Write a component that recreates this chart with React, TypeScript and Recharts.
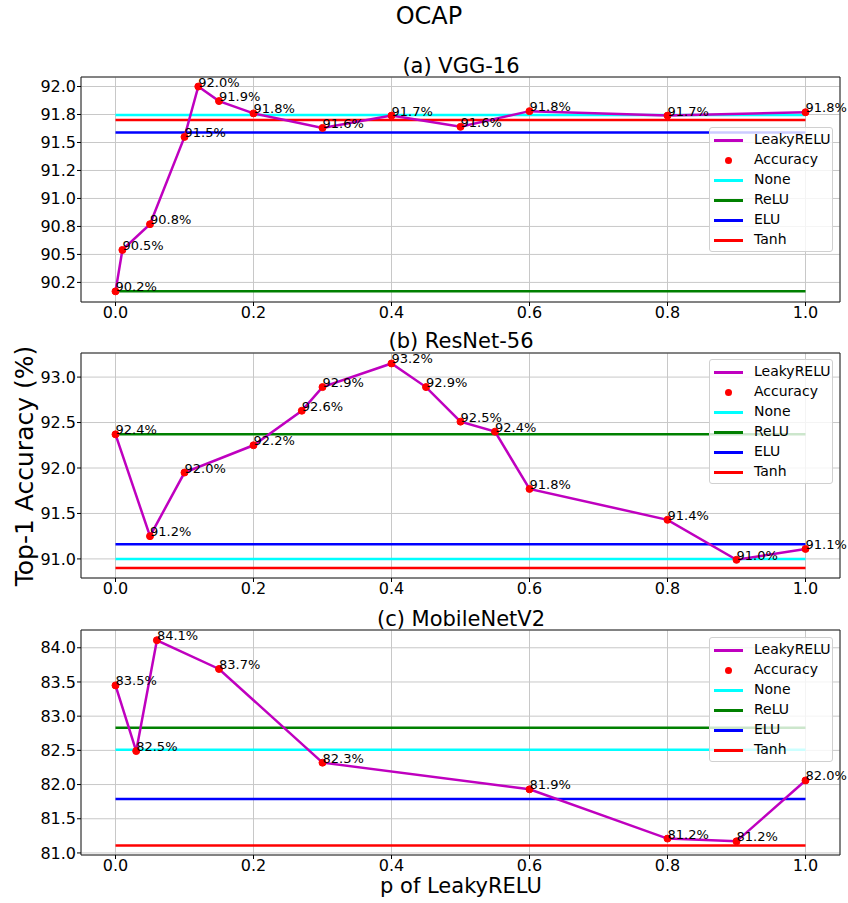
import { CartesianGrid, LabelList, Line, LineChart, ReferenceArea, XAxis, YAxis } from "recharts";

const FONT = "'DejaVu Sans', Verdana, sans-serif";

// shared
const xTicks = [0, 0.2, 0.4, 0.6, 0.8, 1.0];
const baseNames = ["None", "ReLU", "ELU", "Tanh"];
const baseColors = ["#00ffff", "#008000", "#0000ff", "#ff0000"];

// (a) VGG-16
const vggP = [0, 0.01, 0.05, 0.1, 0.12, 0.15, 0.2, 0.3, 0.4, 0.5, 0.6, 0.8, 1.0];
const vggAcc = [90.17, 90.54, 90.77, 91.55, 92.0, 91.87, 91.76, 91.63, 91.74, 91.64, 91.78, 91.74, 91.77];
const vggLabels = ["90.2%", "90.5%", "90.8%", "91.5%", "92.0%", "91.9%", "91.8%", "91.6%", "91.7%", "91.6%", "91.8%", "91.7%", "91.8%"];
const vggBase = [91.745, 90.17, 91.59, 91.7];
const vggYTicks = [90.25, 90.5, 90.75, 91.0, 91.25, 91.5, 91.75, 92.0];
const vggYLabels = ["90.2", "90.5", "90.8", "91.0", "91.2", "91.5", "91.8", "92.0"];

// (b) ResNet-56
const resP = [0, 0.05, 0.1, 0.2, 0.27, 0.3, 0.4, 0.45, 0.5, 0.55, 0.6, 0.8, 0.9, 1.0];
const resAcc = [92.37, 91.25, 91.95, 92.25, 92.63, 92.89, 93.15, 92.89, 92.51, 92.4, 91.77, 91.43, 90.99, 91.11];
const resLabels = ["92.4%", "91.2%", "92.0%", "92.2%", "92.6%", "92.9%", "93.2%", "92.9%", "92.5%", "92.4%", "91.8%", "91.4%", "91.0%", "91.1%"];
const resBase = [91.0, 92.37, 91.16, 90.9];
const resYTicks = [91.0, 91.5, 92.0, 92.5, 93.0];
const resYLabels = ["91.0", "91.5", "92.0", "92.5", "93.0"];

// (c) MobileNetV2
const mobP = [0, 0.03, 0.06, 0.15, 0.3, 0.6, 0.8, 0.9, 1.0];
const mobAcc = [83.45, 82.49, 84.11, 83.69, 82.32, 81.93, 81.21, 81.17, 82.06];
const mobLabels = ["83.5%", "82.5%", "84.1%", "83.7%", "82.3%", "81.9%", "81.2%", "81.2%", "82.0%"];
const mobBase = [82.51, 82.83, 81.79, 81.11];
const mobYTicks = [81.0, 81.5, 82.0, 82.5, 83.0, 83.5, 84.0];
const mobYLabels = ["81.0", "81.5", "82.0", "82.5", "83.0", "83.5", "84.0"];

const PLOT_H = 225;
const PAD_TOP = 10;

const PointLabel = (props: any) => {
	const x = props.x ?? props.viewBox?.x;
	const y = props.y ?? props.viewBox?.y;
	return (
		<text x={x} y={y} fontSize={13} fontFamily={FONT} fill="#000" textAnchor="start">
			{props.value}
		</text>
	);
};

const LegendBox = ({ top }: { top: number }) => (
	<div
		style={{
			position: "absolute",
			left: 709,
			top,
			width: 124,
			height: 125,
			boxSizing: "border-box",
			background: "rgba(255,255,255,0.8)",
			border: "1px solid #d0d0d0",
			borderRadius: 3,
			fontFamily: FONT,
			fontSize: 14,
			color: "#000",
		}}
	>
		{["LeakyRELU", "Accuracy", ...baseNames].map((name, i) => (
			<div key={name} style={{ position: "absolute", left: 0, top: 2 + i * 20, height: 20, width: 124 }}>
				{i === 1 ? (
					<div
						style={{
							position: "absolute",
							left: 15,
							top: 7,
							width: 7,
							height: 7,
							borderRadius: 4,
							background: "#ff0000",
						}}
					/>
				) : (
					<div
						style={{
							position: "absolute",
							left: 4,
							top: 8.5,
							width: 29,
							height: 3,
							background: i === 0 ? "#bf00bf" : baseColors[i - 2],
						}}
					/>
				)}
				<span style={{ position: "absolute", left: 44, top: 1, lineHeight: "17px" }}>{name}</span>
			</div>
		))}
	</div>
);

type PanelProps = {
	plotTop: number;
	p: number[];
	acc: number[];
	labels: string[];
	base: number[];
	yDomain: [number, number];
	yTicks: number[];
	yLabels: string[];
	legendOffset: number;
};

const Panel = ({ plotTop, p, acc, labels, base, yDomain, yTicks, yLabels, legendOffset }: PanelProps) => {
	const rows = p.map((x, i) => ({ p: x, acc: acc[i], label: labels[i] }));
	return (
		<div style={{ position: "absolute", left: 0, top: plotTop - PAD_TOP, width: 848, height: PLOT_H + PAD_TOP + 30 }}>
			<LineChart
				width={848}
				height={PLOT_H + PAD_TOP + 30}
				data={rows}
				margin={{ top: PAD_TOP, right: 8, bottom: 0, left: 21 }}
			>
				<CartesianGrid stroke="#c8c8c8" strokeWidth={1} />
				<XAxis
					type="number"
					dataKey="p"
					domain={[-0.05, 1.05]}
					ticks={xTicks}
					allowDataOverflow
					tickFormatter={(v: number) => v.toFixed(1)}
					height={30}
					tickSize={4}
					tickMargin={1}
					axisLine={false}
					tickLine={{ stroke: "#000" }}
					tick={{ fill: "#000", fontSize: 16, fontFamily: FONT }}
				/>
				<YAxis
					type="number"
					domain={yDomain}
					ticks={yTicks}
					allowDataOverflow
					tickFormatter={(v: number) => yLabels[yTicks.indexOf(v)] ?? ""}
					width={60}
					tickSize={4}
					tickMargin={1}
					axisLine={false}
					tickLine={{ stroke: "#000" }}
					tick={{ fill: "#000", fontSize: 16, fontFamily: FONT }}
				/>
				{base.map((v, i) => (
					<Line
						key={baseNames[i]}
						data={[
							{ p: 0, v },
							{ p: 1, v },
						]}
						dataKey="v"
						stroke={baseColors[i]}
						strokeWidth={2.5}
						dot={false}
						activeDot={false}
						isAnimationActive={false}
					/>
				))}
				<Line
					dataKey="acc"
					stroke="none"
					dot={{ r: 3.5, fill: "#ff0000", stroke: "#ff0000", strokeWidth: 1 }}
					activeDot={false}
					isAnimationActive={false}
				/>
				<Line
					dataKey="acc"
					stroke="#bf00bf"
					strokeWidth={2.5}
					dot={false}
					activeDot={false}
					isAnimationActive={false}
				>
					<LabelList dataKey="label" content={PointLabel} />
				</Line>
				<ReferenceArea
					x1={-0.05}
					x2={1.05}
					y1={yDomain[0]}
					y2={yDomain[1]}
					fill="none"
					stroke="#222"
					strokeWidth={1}
					ifOverflow="visible"
				/>
			</LineChart>
			<LegendBox top={PAD_TOP + legendOffset} />
		</div>
	);
};

export default function App() {
	return (
		<div
			style={{
				position: "absolute",
				left: 0,
				top: 0,
				width: 848,
				height: 903,
				background: "#fff",
				fontFamily: FONT,
			}}
		>
			<Panel
				plotTop={77}
				p={vggP}
				acc={vggAcc}
				labels={vggLabels}
				base={vggBase}
				yDomain={[90.075, 92.085]}
				yTicks={vggYTicks}
				yLabels={vggYLabels}
				legendOffset={50}
			/>
			<Panel
				plotTop={353}
				p={resP}
				acc={resAcc}
				labels={resLabels}
				base={resBase}
				yDomain={[90.79, 93.265]}
				yTicks={resYTicks}
				yLabels={resYLabels}
				legendOffset={6}
			/>
			<Panel
				plotTop={630}
				p={mobP}
				acc={mobAcc}
				labels={mobLabels}
				base={mobBase}
				yDomain={[80.97, 84.26]}
				yTicks={mobYTicks}
				yLabels={mobYLabels}
				legendOffset={7}
			/>
			<svg
				width={848}
				height={903}
				style={{ position: "absolute", left: 0, top: 0, pointerEvents: "none" }}
				fontFamily={FONT}
			>
				<text x={429} y={24} fontSize={24} textAnchor="middle" fill="#000">
					OCAP
				</text>
				<text x={461} y={72.5} fontSize={21} textAnchor="middle" fill="#000">
					(a) VGG-16
				</text>
				<text x={461} y={347.5} fontSize={21} textAnchor="middle" fill="#000">
					(b) ResNet-56
				</text>
				<text x={461} y={625.5} fontSize={21} textAnchor="middle" fill="#000">
					(c) MobileNetV2
				</text>
				<text
					x={33}
					y={466}
					fontSize={25}
					textAnchor="middle"
					fill="#000"
					transform="rotate(-90 33 466)"
				>
					Top-1 Accuracy (%)
				</text>
				<text x={461} y={893} fontSize={21} textAnchor="middle" fill="#000">
					p of LeakyRELU
				</text>
			</svg>
		</div>
	);
}
